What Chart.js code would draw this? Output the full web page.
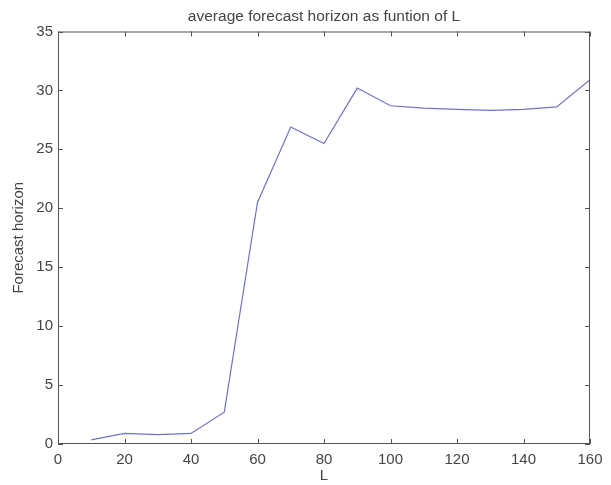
<!DOCTYPE html>
<html>
<head>
<meta charset="utf-8">
<script src="https://cdn.jsdelivr.net/npm/chart.js@4/dist/chart.umd.min.js"></script>
<style>
  html, body { margin: 0; padding: 0; background: #fff; }
  #box { width: 611px; height: 485px; }
</style>
</head>
<body>
<div id="box"><canvas id="grafico"></canvas></div>
<script>
// datos
var valoresL = [10, 20, 30, 40, 50, 60, 70, 80, 90, 100, 110, 120, 130, 140, 150, 160];
var horizonte = [0.35, 0.9, 0.8, 0.9, 2.7, 20.5, 26.9, 25.5, 30.2, 28.7, 28.5, 28.4, 28.3, 28.4, 28.6, 30.9];
var ticksX = [0, 20, 40, 60, 80, 100, 120, 140, 160];
var ticksY = [0, 5, 10, 15, 20, 25, 30, 35];

var gris = "#444";
var fuente = "'Liberation Sans', Arial, sans-serif";

// marco con marcas hacia dentro, estilo matlab
var marco = {
  id: "marco",
  afterLayout: function (chart) {
    // centrar el título sobre el área del gráfico
    var t = chart.titleBlock;
    if (t) {
      t.left = chart.chartArea.left;
      t.right = chart.chartArea.right;
      t.width = t.right - t.left;
    }
  },
  afterDatasetsDraw: function (chart) {
    var ctx = chart.ctx;
    var a = chart.chartArea;
    var x = chart.scales.x;
    var y = chart.scales.y;
    var largo = 5;
    ctx.save();
    ctx.strokeStyle = "#555";
    ctx.lineWidth = 1;
    ctx.strokeRect(a.left + 0.5, a.top + 0.5, a.right - a.left - 1, a.bottom - a.top - 1);
    ctx.beginPath();
    ticksX.forEach(function (v) {
      var px = Math.round(x.getPixelForValue(v)) + 0.5;
      ctx.moveTo(px, a.bottom);
      ctx.lineTo(px, a.bottom - largo);
      ctx.moveTo(px, a.top);
      ctx.lineTo(px, a.top + largo);
    });
    ticksY.forEach(function (v) {
      var py = Math.round(y.getPixelForValue(v)) + 0.5;
      ctx.moveTo(a.left, py);
      ctx.lineTo(a.left + largo, py);
      ctx.moveTo(a.right, py);
      ctx.lineTo(a.right - largo, py);
    });
    ctx.stroke();
    ctx.restore();
  }
};

var datos = {
  datasets: [{
    label: "Forecast horizon",
    data: valoresL.map(function (l, i) { return { x: l, y: horizonte[i] }; }),
    borderColor: "#7171c6",
    borderWidth: 1.2,
    pointRadius: 0,
    fill: false,
    tension: 0
  }]
};

var config = {
  type: "line",
  data: datos,
  options: {
    responsive: true,
    maintainAspectRatio: false,
    animation: false,
    layout: { padding: { left: 0, right: 21, top: 0, bottom: 0 } },
    plugins: {
      legend: { display: false },
      tooltip: { enabled: false },
      title: {
        display: true,
        text: "average forecast horizon as funtion of L",
        color: gris,
        font: { family: fuente, size: 15.5, weight: "normal" },
        padding: { top: 7.5, bottom: 5.4 }
      }
    },
    scales: {
      x: {
        type: "linear",
        min: 0,
        max: 160,
        afterBuildTicks: function (s) { s.ticks = ticksX.map(function (v) { return { value: v }; }); },
        afterFit: function (s) { s.height = 41; },
        grid: { display: false, drawTicks: false },
        border: { display: false },
        ticks: { color: gris, font: { family: fuente, size: 15 }, padding: 7, maxRotation: 0 },
        title: {
          display: true,
          text: "L",
          color: gris,
          font: { family: fuente, size: 15 },
          padding: { top: 0, bottom: 0 }
        }
      },
      y: {
        min: 0,
        max: 35,
        afterBuildTicks: function (s) { s.ticks = ticksY.map(function (v) { return { value: v }; }); },
        afterFit: function (s) { s.width = 58; },
        grid: { display: false, drawTicks: false },
        border: { display: false },
        ticks: { color: gris, font: { family: fuente, size: 15 }, padding: 5 },
        title: {
          display: true,
          text: "Forecast horizon",
          color: gris,
          font: { family: fuente, size: 15 },
          padding: { top: 10, bottom: 4 }
        }
      }
    }
  },
  plugins: [marco]
};

new Chart(document.getElementById("grafico").getContext("2d"), config);
</script>
</body>
</html>
